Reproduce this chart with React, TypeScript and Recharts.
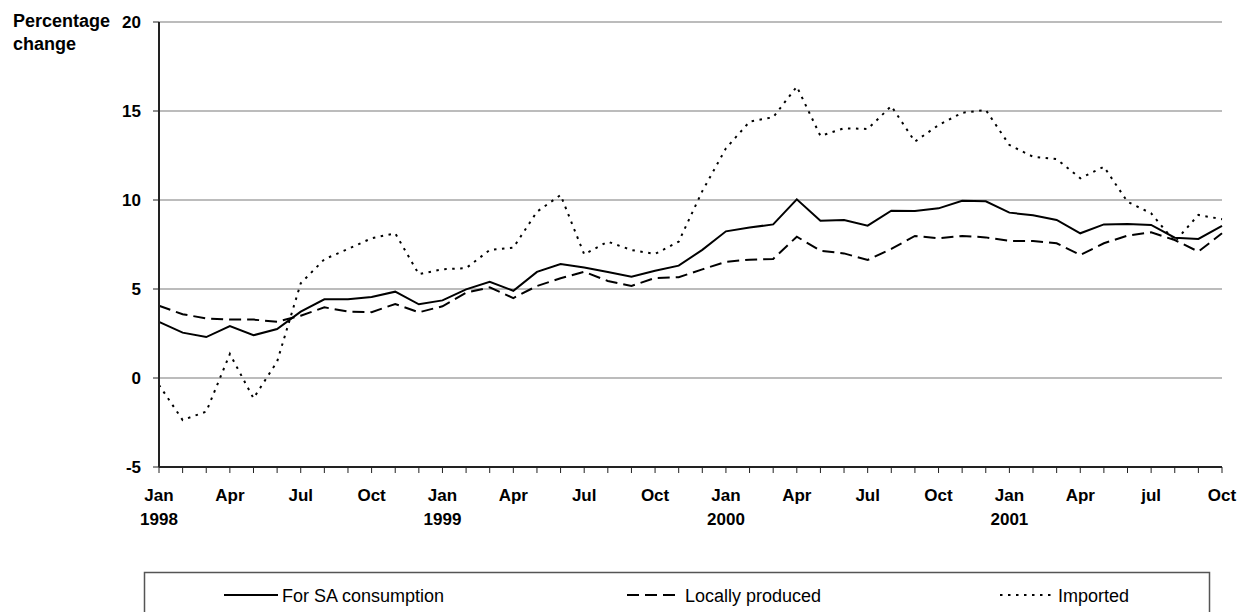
import React from 'react';
import { LineChart, Line, XAxis, YAxis, CartesianGrid } from 'recharts';

const W = 1239;
const H = 612;
const FONT = '"Liberation Sans", Arial, sans-serif';

// monthly, Jan 1998 .. Oct 2001
const consumption = [
  3.15, 2.55, 2.3, 2.92, 2.4, 2.75, 3.73, 4.42, 4.42, 4.55, 4.85, 4.14,
  4.36, 4.98, 5.41, 4.9, 5.96, 6.4, 6.21, 5.96, 5.69, 6.03, 6.31, 7.2,
  8.24, 8.45, 8.63, 10.04, 8.84, 8.88, 8.56, 9.4, 9.38, 9.53, 9.96, 9.93,
  9.29, 9.14, 8.88, 8.13, 8.63, 8.65, 8.6, 7.88, 7.81, 8.54,
];
const locallyProduced = [
  4.06, 3.58, 3.35, 3.28, 3.28, 3.16, 3.5, 3.97, 3.73, 3.7, 4.16, 3.69,
  4.03, 4.79, 5.09, 4.49, 5.17, 5.6, 5.97, 5.45, 5.17, 5.62, 5.66, 6.1,
  6.53, 6.65, 6.69, 7.94, 7.15, 7.0, 6.63, 7.25, 7.98, 7.85, 7.98, 7.9,
  7.7, 7.7, 7.57, 6.91, 7.57, 8.0, 8.18, 7.75, 7.1, 8.13,
];
const imported = [
  -0.39, -2.36, -1.89, 1.35, -1.14, 0.92, 5.32, 6.67, 7.25, 7.85, 8.13, 5.83,
  6.11, 6.17, 7.19, 7.32, 9.34, 10.28, 6.95, 7.66, 7.19, 6.97, 7.66, 10.5,
  12.9, 14.4, 14.65, 16.37, 13.6, 14.03, 13.99, 15.28, 13.28, 14.21, 14.9, 15.06,
  13.09, 12.43, 12.3, 11.22, 11.87, 9.9, 9.25, 7.66, 9.16, 8.92,
];

// labels every third month
const quarterLabels = ['Jan', 'Apr', 'Jul', 'Oct', 'Jan', 'Apr', 'Jul', 'Oct', 'Jan', 'Apr', 'Jul', 'Oct', 'Jan', 'Apr', 'jul', 'Oct'];
const yearLabels: Record<number, string> = { 0: '1998', 12: '1999', 24: '2000', 36: '2001' };
const yTicks = [-5, 0, 5, 10, 15, 20];

const series = [
  { key: 'consumption', name: 'For SA consumption', dash: undefined as string | undefined, legendX: 224 },
  { key: 'local', name: 'Locally produced', dash: '12 6', legendX: 627 },
  { key: 'imported', name: 'Imported', dash: '2.5 5.5', legendX: 1000 },
];

const data = consumption.map((v, i) => ({
  i,
  consumption: v,
  local: locallyProduced[i],
  imported: imported[i],
}));

const monthIdx = data.map((d) => d.i);

const XTick = (props: any) => {
  const { x, y, payload } = props;
  const idx = payload.value as number;
  if (idx % 3 !== 0) return <g />;
  return (
    <g>
      <text x={x} y={y + 26} textAnchor="middle" fontFamily={FONT} fontWeight="bold" fontSize={17} fill="#000">
        {quarterLabels[idx / 3]}
      </text>
      {yearLabels[idx] && (
        <text x={x} y={y + 50} textAnchor="middle" fontFamily={FONT} fontWeight="bold" fontSize={17} fill="#000">
          {yearLabels[idx]}
        </text>
      )}
    </g>
  );
};

const YTick = (props: any) => {
  const { x, y, payload } = props;
  return (
    <text x={x} y={y} dy={6} textAnchor="end" fontFamily={FONT} fontWeight="bold" fontSize={17} fill="#000">
      {payload.value}
    </text>
  );
};

export default function App() {
  return (
    <div style={{ position: 'absolute', left: 0, top: 0, width: W, height: H, overflow: 'hidden', background: '#fff' }}>
      <LineChart width={W} height={H} data={data} margin={{ top: 22, right: 17, left: 99, bottom: 85 }}>
        <CartesianGrid vertical={false} stroke="#a6a6a6" strokeWidth={1.3} />
        <XAxis
          dataKey="i"
          type="number"
          domain={[0, 45]}
          ticks={monthIdx}
          interval={0}
          height={60}
          tickSize={6}
          tickMargin={2}
          axisLine={{ stroke: '#222', strokeWidth: 2 }}
          tickLine={{ stroke: '#222' }}
          tick={(p: any) => <XTick {...p} />}
        />
        <XAxis
          xAxisId="top"
          orientation="top"
          dataKey="i"
          type="number"
          domain={[0, 45]}
          height={0}
          tick={false}
          tickLine={false}
          axisLine={{ stroke: '#333', strokeWidth: 1.5 }}
        />
        <YAxis
          domain={[-5, 20]}
          ticks={yTicks}
          interval={0}
          width={60}
          tickSize={6}
          tickMargin={12}
          axisLine={{ stroke: '#222', strokeWidth: 2 }}
          tickLine={{ stroke: '#222' }}
          tick={(p: any) => <YTick {...p} />}
        />
        <YAxis
          yAxisId="right"
          orientation="right"
          domain={[-5, 20]}
          width={0}
          tick={false}
          tickLine={false}
          axisLine={{ stroke: '#444', strokeWidth: 1.5 }}
        />
        {series.map((s) => (
          <Line
            key={s.key}
            dataKey={s.key}
            name={s.name}
            type="linear"
            stroke="#000"
            strokeWidth={2}
            strokeDasharray={s.dash}
            dot={false}
            activeDot={false}
            isAnimationActive={false}
          />
        ))}
      </LineChart>
      <svg width={W} height={H} style={{ position: 'absolute', left: 0, top: 0, pointerEvents: 'none' }}>
        <text x={13} y={27} fontFamily={FONT} fontWeight="bold" fontSize={18} fill="#000">Percentage</text>
        <text x={13} y={50} fontFamily={FONT} fontWeight="bold" fontSize={18} fill="#000">change</text>
        <rect x={144.5} y={572.5} width={1065} height={60} fill="none" stroke="#555" strokeWidth={1.5} />
        {series.map((s) => (
          <g key={s.key}>
            <line x1={s.legendX} x2={s.legendX + 54} y1={595} y2={595} stroke="#000" strokeWidth={2} strokeDasharray={s.dash} />
            <text x={s.legendX + 58} y={602} fontFamily={FONT} fontSize={18} fill="#000">{s.name}</text>
          </g>
        ))}
      </svg>
    </div>
  );
}
